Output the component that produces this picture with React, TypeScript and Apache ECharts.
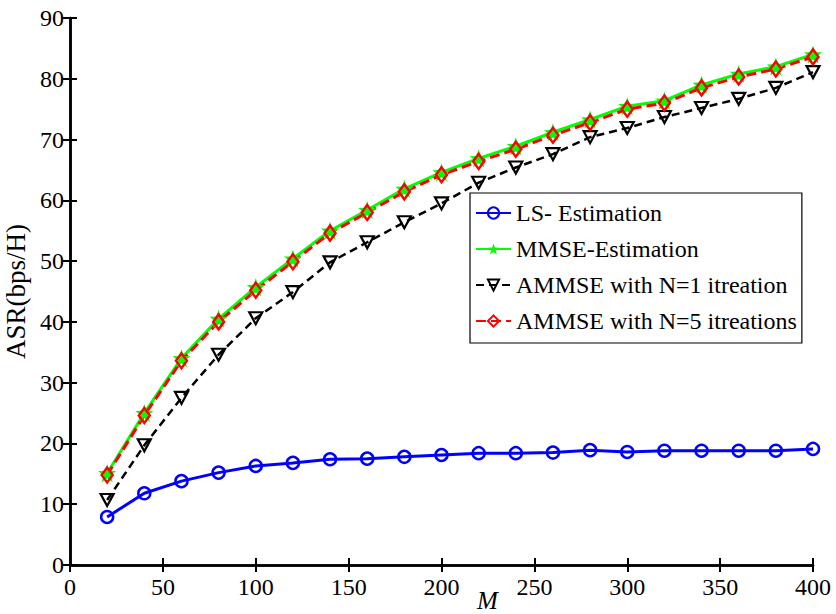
import React, { useEffect, useRef } from "react";
import * as echarts from "echarts";

const M = [20, 40, 60, 80, 100, 120, 140, 160, 180, 200, 220, 240, 260, 280, 300, 320, 340, 360, 380, 400];
const lsEstimation = [7.9, 11.8, 13.8, 15.2, 16.3, 16.8, 17.4, 17.5, 17.8, 18.1, 18.4, 18.4, 18.5, 18.9, 18.6, 18.8, 18.8, 18.8, 18.8, 19.1];
const mmseEstimation = [15.1, 25.0, 34.0, 40.5, 45.7, 50.4, 55.0, 58.4, 61.9, 64.6, 66.9, 68.9, 71.2, 73.3, 75.5, 76.4, 79.0, 80.8, 82.0, 84.0];
const ammseN1 = [10.7, 19.7, 27.5, 34.6, 40.6, 44.9, 49.8, 53.1, 56.4, 59.5, 62.9, 65.4, 67.6, 70.4, 71.9, 73.7, 75.2, 76.7, 78.5, 81.1];
const ammseN5 = [14.8, 24.6, 33.6, 40.0, 45.2, 49.9, 54.6, 58.0, 61.4, 64.2, 66.4, 68.4, 70.7, 72.8, 75.0, 76.0, 78.5, 80.3, 81.6, 83.6];
const seriesNames = ["LS- Estimation", "MMSE-Estimation", "AMMSE with N=1 itreation", "AMMSE with N=5 itreations"];
const xTicks = { min: 0, max: 400, interval: 50 };
const yTicks = { min: 0, max: 90, interval: 10 };

const FONT = "Liberation Serif";
const STAR = "path://M0,-10 L2.35,-3.24 L9.51,-3.09 L3.8,1.24 L5.88,8.09 L0,4 L-5.88,8.09 L-3.8,1.24 L-9.51,-3.09 L-2.35,-3.24 Z";

const pair = (ys: number[]) => M.map((m, i) => [m, ys[i]]);

export default function App() {
  const ref = useRef<HTMLDivElement>(null);
  useEffect(() => {
    if (!ref.current) return;
    const chart = echarts.init(ref.current, undefined, { renderer: "svg" });
    const axisLine = { show: true, lineStyle: { color: "#000", width: 2.5 } };
    const tick = { show: true, inside: true, length: 7, lineStyle: { color: "#000", width: 2 } };
    const label = { fontFamily: FONT, fontSize: 24, color: "#000" };
    chart.setOption({
      animation: false,
      backgroundColor: "#fff",
      grid: { left: 70, right: 23, top: 18, bottom: 49, containLabel: false, outerBoundsMode: "none" },
      xAxis: [
        {
          type: "value", position: "bottom", ...xTicks,
          axisLine, axisTick: tick, splitLine: { show: false },
          axisLabel: { ...label, margin: 10 },
        },
        {
          type: "value", position: "top", ...xTicks,
          axisLine, axisTick: tick, splitLine: { show: false },
          axisLabel: { show: false },
        },
      ],
      yAxis: [
        {
          type: "value", position: "left", ...yTicks,
          axisLine, axisTick: tick, splitLine: { show: false },
          axisLabel: { ...label, margin: 6 },
          name: "ASR(bps/H)", nameLocation: "middle", nameGap: 37, nameRotate: 90,
          nameTextStyle: { fontFamily: FONT, fontSize: 27, color: "#000" },
        },
        {
          type: "value", position: "right", ...yTicks,
          axisLine, axisTick: tick, splitLine: { show: false },
          axisLabel: { show: false },
        },
      ],
      legend: {
        orient: "vertical",
        left: 470,
        top: 193,
        backgroundColor: "#fff",
        borderColor: "#000",
        borderWidth: 1.2,
        borderRadius: 0,
        padding: [8, 5, 10, 5],
        itemWidth: 35,
        itemHeight: 14,
        itemGap: 12,
        textStyle: { fontFamily: FONT, fontSize: 24, color: "#000", lineHeight: 24 },
        data: seriesNames,
      },
      graphic: [
        {
          type: "text", left: 477, top: 588,
          style: { text: "M", fontFamily: FONT, fontSize: 25, fontStyle: "italic", fill: "#000" },
        },
      ],
      series: [
        {
          name: seriesNames[0], type: "line", data: pair(lsEstimation),
          symbol: "circle", symbolSize: 12,
          lineStyle: { color: "#0000ff", width: 3 },
          itemStyle: { color: "rgba(0,0,0,0)", borderColor: "#0000ff", borderWidth: 2.5 },
        },
        {
          name: seriesNames[1], type: "line", data: pair(mmseEstimation),
          symbol: STAR, symbolSize: 18,
          lineStyle: { color: "#00ff00", width: 3 },
          itemStyle: { color: "#00ff00", borderColor: "#00ff00", borderWidth: 0 },
        },
        {
          name: seriesNames[2], type: "line", data: pair(ammseN1),
          symbol: "triangle", symbolRotate: 180, symbolSize: [13, 12],
          lineStyle: { color: "#000", width: 2.5, type: [8, 5] },
          itemStyle: { color: "rgba(0,0,0,0)", borderColor: "#000", borderWidth: 2.2 },
        },
        {
          name: seriesNames[3], type: "line", data: pair(ammseN5),
          symbol: "diamond", symbolSize: [11, 15],
          lineStyle: { color: "#ff0000", width: 3, type: [10, 5] },
          itemStyle: { color: "rgba(0,0,0,0)", borderColor: "#ff0000", borderWidth: 2.5 },
        },
      ],
    });
    return () => chart.dispose();
  }, []);
  return (
    <div
      ref={ref}
      style={{ position: "absolute", left: 0, top: 0, width: 836, height: 614 }}
    />
  );
}
